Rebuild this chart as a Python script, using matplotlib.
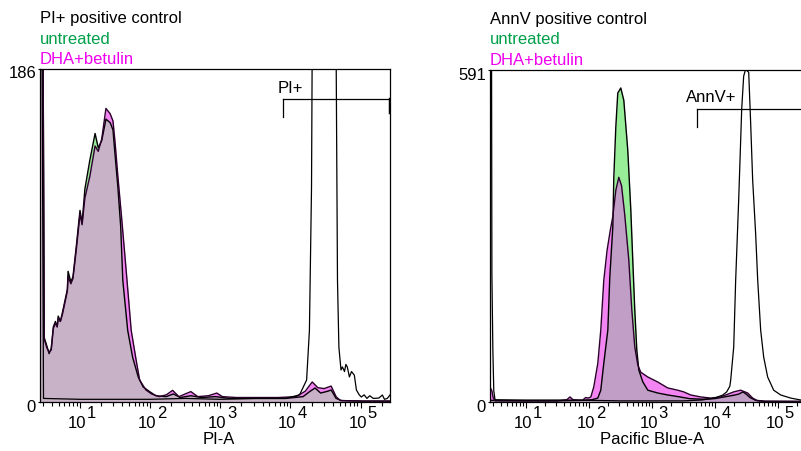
import numpy as np
import matplotlib
matplotlib.use("Agg")
import matplotlib.pyplot as plt
from matplotlib.ticker import LogLocator, NullFormatter

plt.rcParams["font.family"] = ["Liberation Sans", "DejaVu Sans"]
plt.rcParams["font.size"] = 12

# ======================
# data (x in log10 units, y in counts)
# ======================
PI_YMAX = 186
ANN_YMAX = 591
X_MAX = 262144
X_MIN_LOG = 0.43
DECADES = [1, 2, 3, 4, 5]

pi_ctrl_x = [0.43, 0.46, 0.48, 1.0, 2.0, 2.5, 3.0, 3.5, 3.93, 4.13,
             4.23, 4.27, 4.30, 4.31, 4.38, 4.48, 4.58, 4.65, 4.67, 4.69,
             4.72, 4.74, 4.77, 4.79, 4.81, 4.84, 4.87, 4.91, 4.94, 4.98,
             5.01, 5.05, 5.09, 5.13, 5.18, 5.26, 5.31, 5.34, 5.38, 5.42]
pi_ctrl_y = [186, 186, 2, 1.5, 1.5, 2, 1.5, 2, 2, 4,
             12.3, 40, 120, 200, 450, 600, 450, 200, 68, 30.7,
             17.9, 19.6, 17, 21, 19.6, 14, 17, 15, 6.7, 4,
             2.8, 4, 2, 3.5, 2, 2.2, 3.9, 1.5, 2, 4]

pi_unt_x = [0.43, 0.475, 0.49, 0.53, 0.56, 0.59, 0.62, 0.65, 0.675, 0.69,
            0.72, 0.75, 0.82, 0.83, 0.87, 0.90, 0.95, 1.00, 1.03, 1.07,
            1.14, 1.215, 1.26, 1.31, 1.37, 1.43, 1.47, 1.50, 1.54, 1.58,
            1.61, 1.68, 1.75, 1.83, 1.90, 2.00, 2.08, 2.23, 2.33, 2.43,
            2.58, 2.73, 2.93, 3.13, 3.33, 3.63, 3.93, 4.18, 4.28, 4.35,
            4.43, 4.53, 4.58, 4.65, 4.73, 5.03, 5.42]
pi_unt_y = [186, 186, 36, 31, 27, 30, 42, 45, 42, 48,
            45, 50, 63, 73, 67, 70, 88, 107, 100, 119,
            135, 150, 142, 146, 158, 156, 152, 138, 120, 98,
            68, 40, 25, 14, 8.4, 5.6, 3.5, 3, 4.5, 2.5,
            3.5, 2.5, 3, 2, 2, 2, 2, 3, 6, 7.8,
            5, 6, 6.7, 2, 0.8, 0.5, 0.5]

pi_dha_x = [0.43, 0.475, 0.49, 0.53, 0.56, 0.59, 0.62, 0.65, 0.675, 0.69,
            0.72, 0.75, 0.82, 0.83, 0.87, 0.90, 0.95, 1.00, 1.03, 1.07,
            1.14, 1.215, 1.26, 1.31, 1.37, 1.43, 1.47, 1.50, 1.54, 1.60,
            1.67, 1.73, 1.80, 1.85, 1.94, 2.02, 2.13, 2.23, 2.32, 2.41,
            2.50, 2.58, 2.68, 2.83, 2.95, 3.03, 3.23, 3.53, 3.83, 4.08,
            4.21, 4.31, 4.39, 4.48, 4.58, 4.65, 4.71, 5.03, 5.42]
pi_dha_y = [186, 186, 35, 30, 28, 29, 41, 44, 42, 47,
            45, 49, 62, 70, 66, 69, 86, 105, 99, 114,
            126, 143, 140, 147, 164, 161, 157, 145, 126, 100,
            68, 40, 23.5, 12.3, 6.7, 4.5, 3, 4, 6.5, 3,
            4.5, 5.8, 3, 3.5, 5, 3, 2.5, 2.5, 2.5, 3,
            6, 11.2, 8, 7.5, 8.9, 3, 0.8, 0.5, 0.5]

ann_ctrl_x = [0.437, 0.455, 0.46, 0.475, 0.49, 0.51, 1.0, 1.5, 2.0, 2.5,
              3.0, 3.5, 3.8, 4.0, 4.13, 4.19, 4.24, 4.254, 4.302, 4.333,
              4.381, 4.429, 4.46, 4.49, 4.54, 4.57, 4.603, 4.65, 4.683, 4.73,
              4.778, 4.841, 4.937, 5.048, 5.206, 5.365, 5.42]
ann_ctrl_y = [600, 600, 230, 95, 20, 4, 3.5, 3.5, 3, 2,
              2, 2, 3.6, 7, 12.5, 18, 28, 39, 98, 217,
              360, 522, 580, 592, 587, 500, 395, 300, 217, 128,
              80, 44.5, 21, 12.5, 7, 3.6, 3]

ann_unt_x = [0.437, 1.0, 1.5, 1.9, 2.05, 2.143, 2.19, 2.238, 2.302, 2.333,
             2.381, 2.397, 2.429, 2.46, 2.508, 2.556, 2.619, 2.667, 2.698, 2.730,
             2.762, 2.794, 2.857, 2.937, 3.095, 3.254, 3.45, 3.6, 3.8, 4.0,
             4.15, 4.3, 4.38, 4.45, 4.5, 4.56, 4.65, 4.8, 5.42]
ann_unt_y = [3, 2, 2, 3, 4, 7, 21, 69, 128, 222,
             311, 400, 490, 550, 559, 537, 448, 342, 253, 164,
             93, 57, 36, 21, 16, 12.5, 9, 6, 5, 6,
             9, 12, 14, 18, 14, 8, 3, 1.5, 1]

ann_dha_x = [0.437, 0.46, 0.48, 0.51, 1.0, 1.5, 1.65, 1.70, 1.75, 1.9,
             1.95, 1.99, 2.032, 2.079, 2.143, 2.19, 2.238, 2.29, 2.34, 2.381,
             2.429, 2.476, 2.52, 2.571, 2.635, 2.683, 2.730, 2.778, 2.825, 2.937,
             3.095, 3.254, 3.413, 3.508, 3.619, 3.778, 3.937, 4.095, 4.302, 4.413,
             4.524, 4.603, 4.683, 4.8, 5.42]
ann_dha_y = [25, 20, 8, 2, 2, 2, 4, 9, 4, 3,
             8, 7, 9, 27, 69, 128, 217, 270, 305, 330,
             377, 400, 385, 333, 253, 164, 98, 66, 53, 44.5,
             35.6, 25, 21, 18, 12.5, 9, 7, 9, 18, 21,
             16, 7, 2, 1, 1]

# gates: (start log10, level in counts)
PI_GATE = (3.893, 169)
ANN_GATE = (3.718, 521)

# ======================
# style
# ======================
GREEN_FILL = "#98ee98"
PINK_FILL = "#f285f2"
GREEN_TEXT = "#00a04a"
MAGENTA_TEXT = "#ee00ee"
DHA_EDGE = "#2a002a"
PX = 0.72  # points per pixel at dpi 100


def draw_panel(ax, ctrl, unt, dha, ymax, overlap, gate, gate_label, label_off,
               xlabel, xlabel_x):
    ux, uy = np.power(10.0, unt[0]), np.array(unt[1])
    dx, dy = np.power(10.0, dha[0]), np.array(dha[1])
    cx, cy = np.power(10.0, ctrl[0]), np.array(ctrl[1])

    # green = untreated only, pink = DHA only, overlap = both
    ax.fill_between(ux, uy, 0, color=GREEN_FILL, lw=0)
    dha_poly = ax.fill_between(dx, dy, 0, color=PINK_FILL, lw=0)
    both = ax.fill_between(ux, uy, 0, color=overlap, lw=0)
    both.set_clip_path(dha_poly.get_paths()[0], dha_poly.get_transform())
    ax.plot(ux, uy, color="black", lw=1.0)
    ax.plot(dx, dy, color=DHA_EDGE, lw=1.0)
    ax.plot(cx, cy, color="black", lw=0.9)

    ax.set_xscale("log")
    ax.set_xlim(10 ** X_MIN_LOG, X_MAX)
    ax.set_ylim(0, ymax)

    # gate bracket
    g0, gy = gate
    drop = ymax * 18 / 333
    ax.plot([10 ** g0, X_MAX], [gy, gy], color="black", lw=0.9)
    ax.plot([10 ** g0, 10 ** g0], [gy, gy - drop], color="black", lw=0.9)
    ax.plot([X_MAX, X_MAX], [gy, gy - drop * 0.7], color="black", lw=2.5)
    ax.annotate(gate_label, xy=(10 ** g0, gy), xytext=label_off,
                textcoords="offset pixels", ha="center", va="center", fontsize=12)

    # axes look
    for s in ax.spines.values():
        s.set_linewidth(0.9)
    ax.xaxis.set_major_locator(LogLocator(base=10, numticks=20))
    ax.xaxis.set_minor_locator(LogLocator(base=10, subs=np.arange(2, 10), numticks=20))
    ax.xaxis.set_minor_formatter(NullFormatter())
    ax.tick_params(axis="x", which="major", direction="out", length=6 * PX, width=0.8,
                   labelbottom=False)
    ax.tick_params(axis="x", which="minor", direction="out", length=4 * PX, width=0.8)
    ax.set_yticks([0, ymax])
    ax.tick_params(axis="y", direction="out", length=2 * PX, width=0.8, labelleft=False)

    for k in DECADES:
        ax.annotate("10", xy=(10.0 ** k, 0), xycoords=("data", "axes fraction"),
                    xytext=(-3, -26), textcoords="offset pixels", ha="center",
                    va="baseline", fontsize=12, annotation_clip=False)
        ax.annotate(str(k), xy=(10.0 ** k, 0), xycoords=("data", "axes fraction"),
                    xytext=(11.5, -16), textcoords="offset pixels", ha="center",
                    va="baseline", fontsize=12, annotation_clip=False)
    for val, yf in [(0, 0), (ymax, 1)]:
        ax.annotate(str(val), xy=(0, yf), xycoords="axes fraction", xytext=(-4, -5),
                    textcoords="offset pixels", ha="right", va="center", fontsize=12)

    ax.set_xlabel(xlabel, fontsize=12)
    ax.xaxis.set_label_coords(xlabel_x, -30 / 333)


fig = plt.figure(figsize=(8.01, 4.51), dpi=100)
W, H = 801, 451
ax1 = fig.add_axes([40 / W, 49 / H, 350 / W, 333 / H])
ax2 = fig.add_axes([490 / W, 49 / H, 314 / W, 332 / H])

draw_panel(ax1, (pi_ctrl_x, pi_ctrl_y), (pi_unt_x, pi_unt_y), (pi_dha_x, pi_dha_y),
           PI_YMAX, "#c8b2c8", PI_GATE, "PI+", (7, 11), "PI-A", 0.51)
draw_panel(ax2, (ann_ctrl_x, ann_ctrl_y), (ann_unt_x, ann_unt_y), (ann_dha_x, ann_dha_y),
           ANN_YMAX, "#c09ec6", ANN_GATE, "AnnV+", (14, 12), "Pacific Blue-A", 0.516)

# header texts
for x0, lines, base in [(40, ["PI+ positive control", "untreated", "DHA+betulin"], 23),
                        (490, ["AnnV positive control", "untreated", "DHA+betulin"], 24)]:
    for i, (t, c) in enumerate(zip(lines, ["black", GREEN_TEXT, MAGENTA_TEXT])):
        fig.text(x0 / W, 1 - (base + 20.5 * i) / H, t, color=c, fontsize=12, va="baseline")

fig.savefig("out.png", dpi=100)
